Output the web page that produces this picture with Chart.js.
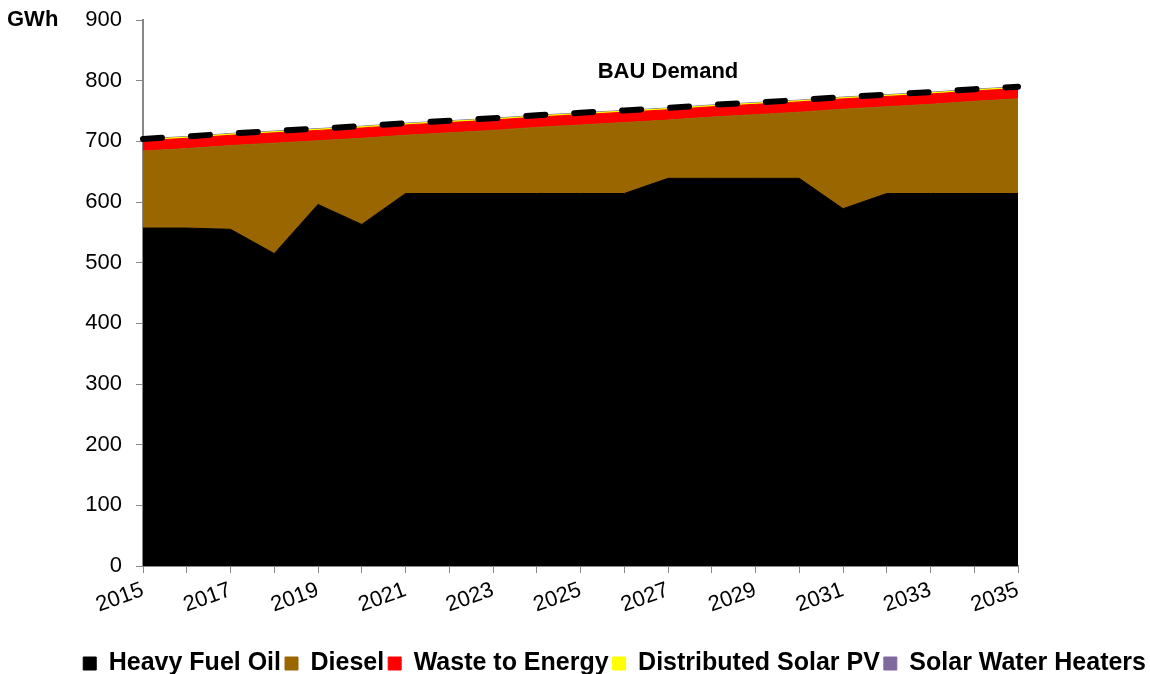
<!DOCTYPE html>
<html>
<head>
<meta charset="utf-8">
<script src="https://cdn.jsdelivr.net/npm/chart.js@4.4.0/dist/chart.umd.min.js"></script>
<style>
  html, body { margin: 0; padding: 0; background: #fff; }
  #wrap { width: 1150px; height: 674px; position: relative; }
</style>
</head>
<body>
<div id="wrap"><canvas id="c" width="1150" height="674"></canvas></div>
<script>
// years on the x axis
const years = ["2015","2016","2017","2018","2019","2020","2021","2022","2023","2024","2025",
  "2026","2027","2028","2029","2030","2031","2032","2033","2034","2035"];

// GWh per source
const heavyFuelOil = [557,557,555,515,596,563,614,614,614,614,614,614,639,639,639,639,589,614,614,614,614];
const diesel       = [127,131,138,182,105,142,96,100,104,109,113,117,96,101,105,109,164,143,147,152,156];
const wasteToEnergy = [17,17,17,17,17,17,17,17,17,17,17,17,17,17,17,17,17,17,17,17,17];
const solarPV      = [2,2,2,2,2,2,2,2,2,2,2,2,2,2,2,2,2,2,2,2,2];
const solarWater   = [1,1,1,1,1,1,1,1,1,1,1,1,1,1,1,1,1,1,1,1,1];
const bauDemand    = [704,708,713,717,721,725,730,734,738,743,747,751,755,760,764,768,773,777,781,786,790];

const font = "'Liberation Sans', Arial, sans-serif";

function area(label, data, color, fill) {
  return {
    label, data, fill,
    backgroundColor: color,
    borderColor: color,
    borderWidth: 1,
    pointRadius: 0,
    tension: 0,
    stack: "supply",
    order: 1
  };
}

// free text: axis unit and the line label
const textPlugin = {
  id: "texts",
  afterLayout(chart) {
    // legend sits a bit lower than chart.js puts it
    chart.legend.top += 12;
    chart.legend.bottom += 12;
  },
  afterDraw(chart) {
    const ctx = chart.ctx;
    const x = chart.scales.x, y = chart.scales.y;
    ctx.save();
    ctx.fillStyle = "#000";
    ctx.font = "bold 22px " + font;
    ctx.textBaseline = "middle";
    ctx.textAlign = "left";
    ctx.fillText("GWh", 7, 20);
    ctx.textAlign = "center";
    ctx.fillText("BAU Demand", x.getPixelForValue(12), y.getPixelForValue(814));
    ctx.restore();
  }
};

new Chart(document.getElementById("c"), {
  type: "line",
  data: {
    labels: years,
    datasets: [
      area("Heavy Fuel Oil", heavyFuelOil, "#000000", "origin"),
      area("Diesel", diesel, "#996600", "-1"),
      area("Waste to Energy", wasteToEnergy, "#FF0000", "-1"),
      area("Distributed Solar PV", solarPV, "#FFFF00", "-1"),
      area("Solar Water Heaters", solarWater, "#7F6A9E", "-1"),
      {
        label: "BAU Demand",
        data: bauDemand,
        fill: false,
        borderColor: "#000",
        borderWidth: 6,
        borderDash: [19, 29],
        borderCapStyle: "round",
        pointRadius: 0,
        tension: 0,
        stack: "demand",
        order: 0
      }
    ]
  },
  options: {
    responsive: false,
    animation: false,
    layout: { padding: 0 },
    plugins: {
      tooltip: { enabled: false },
      legend: {
        position: "bottom",
        align: "end",
        labels: {
          filter: item => item.text !== "BAU Demand",
          boxWidth: 13,
          boxHeight: 13,
          padding: 4,
          color: "#000",
          font: { family: font, size: 25, weight: "bold" }
        }
      }
    },
    scales: {
      x: {
        grid: { drawOnChartArea: false, drawTicks: true, tickLength: 7, color: "#888", lineWidth: 1 },
        border: { color: "#888", width: 2 },
        ticks: {
          autoSkip: false,
          maxRotation: 20,
          minRotation: 20,
          color: "#000",
          padding: 4,
          font: { family: font, size: 22 },
          callback: (v, i) => (i % 2 === 0 ? years[i] : "")
        },
        afterFit: s => { s.height = 69; }
      },
      y: {
        stacked: true,
        min: 0,
        max: 900,
        grid: { drawOnChartArea: false, drawTicks: true, tickLength: 7, color: "#888", lineWidth: 1 },
        border: { color: "#888", width: 2 },
        ticks: {
          stepSize: 100,
          color: "#000",
          padding: 14,
          font: { family: font, size: 22 }
        },
        afterFit: s => { s.width = 143; s.paddingTop = 20; }
      },
      // empty right-hand axis, only keeps the margin right of the plot
      yRight: {
        position: "right",
        display: true,
        grid: { display: false },
        border: { display: false },
        ticks: { display: false },
        afterFit: s => { s.width = 132; }
      }
    }
  },
  plugins: [textPlugin]
});
</script>
</body>
</html>
